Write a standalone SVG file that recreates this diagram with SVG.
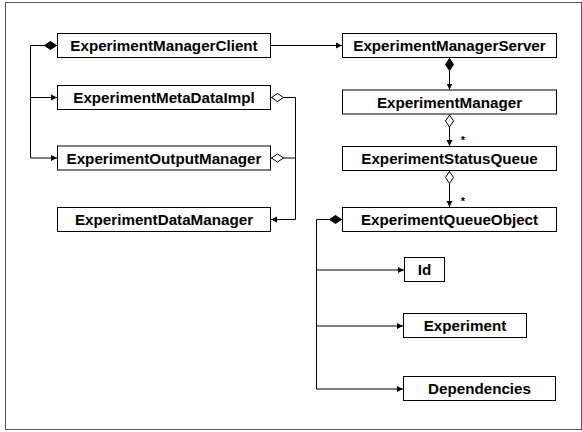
<svg xmlns="http://www.w3.org/2000/svg" width="582" height="432" viewBox="0 0 582 432">
  <style>
    .box { fill: #ffffff; stroke: #000000; stroke-width: 1; }
    .lbl { font-family: "Liberation Sans", Arial, sans-serif; font-weight: bold; font-size: 15.2px; fill: #000000; text-anchor: middle; dominant-baseline: central; }
    .mult { font-family: "Liberation Sans", Arial, sans-serif; font-weight: bold; font-size: 11px; fill: #000000; text-anchor: middle; }
    .wire { fill: none; stroke: #000000; stroke-width: 1; }
    .arr { marker-end: url(#head); }
    .comp { marker-start: url(#solidDiamond); }
    .aggr { marker-start: url(#openDiamond); }
  </style>
  <defs>
    <marker id="head" markerUnits="userSpaceOnUse" markerWidth="8" markerHeight="8" refX="6" refY="4" orient="auto">
      <path d="M0,1 L6,4 L0,7 Z" fill="#000000"/>
    </marker>
    <!-- diamonds extend from the path start along its direction -->
    <marker id="solidDiamond" markerUnits="userSpaceOnUse" markerWidth="14" markerHeight="10" refX="0" refY="5" orient="auto">
      <path d="M0.5,5 L6.5,1 L12.5,5 L6.5,9 Z" fill="#000000" stroke="#000000" stroke-width="1"/>
    </marker>
    <marker id="openDiamond" markerUnits="userSpaceOnUse" markerWidth="14" markerHeight="10" refX="0" refY="5" orient="auto">
      <path d="M0.5,5 L6.5,1 L12.5,5 L6.5,9 Z" fill="#ffffff" stroke="#000000" stroke-width="1"/>
    </marker>
  </defs>

  <!-- outer frame -->
  <rect x="5.5" y="2.5" width="576" height="427" fill="#ffffff" stroke="#555555" stroke-width="1"/>

  <!-- connectors -->
  <g id="connectors">
    <!-- client composition fan-out -->
    <path class="wire comp" d="M57,45.5 L30.5,45.5 L30.5,158"/>
    <path class="wire arr" d="M30.5,97.5 L57,97.5"/>
    <path class="wire arr" d="M30.5,158 L57,158"/>
    <!-- client to server -->
    <path class="wire arr" d="M271,45.5 L342,45.5"/>
    <!-- meta data / output manager aggregation into data manager -->
    <path class="wire aggr" d="M271,97.5 L295.5,97.5 L295.5,219.5"/>
    <path class="wire aggr" d="M271,158 L295.5,158"/>
    <path class="wire arr" d="M295.5,219.5 L271,219.5"/>
    <!-- server column -->
    <path class="wire comp arr" d="M449.5,58 L449.5,89.5"/>
    <path class="wire aggr arr" d="M449.5,114.5 L449.5,146"/>
    <text class="mult" x="463" y="144">*</text>
    <path class="wire aggr arr" d="M449.5,171 L449.5,207"/>
    <text class="mult" x="463" y="205">*</text>
    <!-- queue object composition fan-out -->
    <path class="wire comp" d="M342,219.5 L316.5,219.5 L316.5,389"/>
    <path class="wire arr" d="M316.5,270 L404,270"/>
    <path class="wire arr" d="M316.5,326 L403,326"/>
    <path class="wire arr" d="M316.5,389 L403,389"/>
  </g>

  <!-- left column -->
  <g id="ExperimentManagerClient">
    <rect class="box" x="57.5" y="33.5" width="213" height="24"/>
    <text class="lbl" x="164" y="45.5">ExperimentManagerClient</text>
  </g>
  <g id="ExperimentMetaDataImpl">
    <rect class="box" x="57.5" y="85.5" width="213" height="24"/>
    <text class="lbl" x="164" y="97.5">ExperimentMetaDataImpl</text>
  </g>
  <g id="ExperimentOutputManager">
    <rect class="box" x="57.5" y="146" width="213" height="24"/>
    <text class="lbl" x="164" y="158">ExperimentOutputManager</text>
  </g>
  <g id="ExperimentDataManager">
    <rect class="box" x="57.5" y="207.5" width="213" height="24"/>
    <text class="lbl" x="164" y="219.5">ExperimentDataManager</text>
  </g>

  <!-- right column -->
  <g id="ExperimentManagerServer">
    <rect class="box" x="342.5" y="33.5" width="214" height="24"/>
    <text class="lbl" x="449.5" y="45.5">ExperimentManagerServer</text>
  </g>
  <g id="ExperimentManager">
    <rect class="box" x="342.5" y="90" width="214" height="24"/>
    <text class="lbl" x="449.5" y="102">ExperimentManager</text>
  </g>
  <g id="ExperimentStatusQueue">
    <rect class="box" x="342.5" y="146.5" width="214" height="24"/>
    <text class="lbl" x="449.5" y="158.5">ExperimentStatusQueue</text>
  </g>
  <g id="ExperimentQueueObject">
    <rect class="box" x="342.5" y="207.5" width="214" height="24"/>
    <text class="lbl" x="449.5" y="219.5">ExperimentQueueObject</text>
  </g>

  <!-- queue object members -->
  <g id="Id">
    <rect class="box" x="404.5" y="257.5" width="40" height="24"/>
    <text class="lbl" x="424.5" y="269.5">Id</text>
  </g>
  <g id="Experiment">
    <rect class="box" x="403.5" y="313.5" width="123" height="24"/>
    <text class="lbl" x="465" y="325.5">Experiment</text>
  </g>
  <g id="Dependencies">
    <rect class="box" x="403.5" y="376.5" width="152" height="24"/>
    <text class="lbl" x="479.5" y="388.5">Dependencies</text>
  </g>
</svg>
